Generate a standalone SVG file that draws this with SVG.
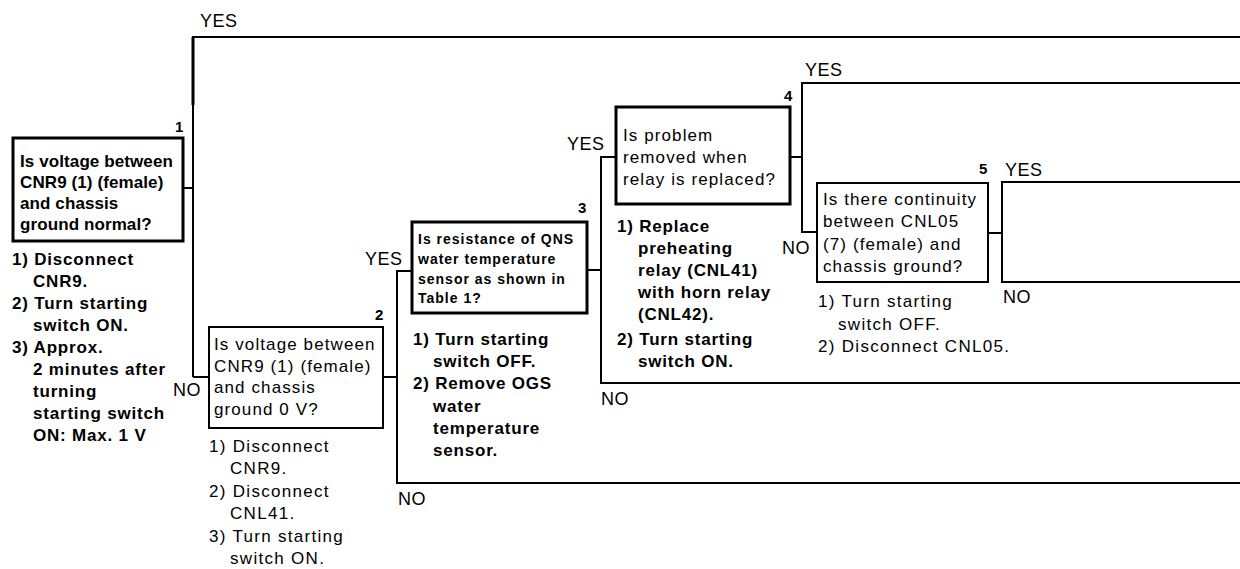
<svg xmlns="http://www.w3.org/2000/svg" width="1240" height="569" viewBox="0 0 1240 569">
<style>
  text { font-family: "Liberation Sans", Arial, Helvetica, sans-serif; fill: #000; }
  .q  { font-size: 17px; letter-spacing: 1.1px; }
  .qb { font-size: 17px; font-weight: bold; letter-spacing: 0.1px; }
  .qs { font-size: 14px; font-weight: bold; letter-spacing: 1px; }
  .s  { font-size: 17px; letter-spacing: 1.3px; }
  .sb { font-size: 17px; font-weight: bold; letter-spacing: 0.8px; }
  .lbl { font-size: 18px; letter-spacing: 0.5px; }
  .num { font-size: 15px; font-weight: bold; }
  .box { fill: #fff; stroke: #000; }
  .thick { stroke-width: 3; }
  .thin { stroke-width: 2; }
</style>
<rect width="1240" height="569" fill="#fff"/>

<!-- connecting lines between the check steps -->
<g id="connectors" fill="none" stroke="#000" stroke-width="2">
  <path d="M183 188 H193"/>
  <path d="M193 377 V37 H1240"/>
  <path d="M193 105 V37" stroke-width="3"/>
  <path d="M193 377 H209"/>
  <path d="M383 377 H397"/>
  <path d="M412 271 H397 V483 H1240"/>
  <path d="M587 270 H601"/>
  <path d="M616 157 H601 V383 H1240"/>
  <path d="M790 157 H802"/>
  <path d="M1240 83 H802 V232 H817"/>
  <path d="M988 233 H1002"/>
  <path d="M1240 182 H1002 V282 H1240"/>
</g>

<!-- branch labels -->
<g id="branch-labels">
  <text class="lbl" x="200" y="27">YES</text>
  <text class="lbl" x="173" y="396">NO</text>
  <text class="lbl" x="365" y="265">YES</text>
  <text class="lbl" x="398" y="505">NO</text>
  <text class="lbl" x="567" y="150">YES</text>
  <text class="lbl" x="601" y="405">NO</text>
  <text class="lbl" x="805" y="76">YES</text>
  <text class="lbl" x="782" y="254">NO</text>
  <text class="lbl" x="1005" y="176">YES</text>
  <text class="lbl" x="1003" y="303">NO</text>
</g>

<!-- step 1 -->
<g id="node1">
  <rect class="box thick" x="13" y="138" width="170" height="103"/>
  <text class="num" x="175" y="132">1</text>
  <text class="qb" x="20" y="167">Is voltage between</text>
  <text class="qb" x="20" y="188">CNR9 (1) (female)</text>
  <text class="qb" x="20" y="209">and chassis</text>
  <text class="qb" x="20" y="230">ground normal?</text>
  <text class="sb" x="12" y="265">1) Disconnect</text>
  <text class="sb" x="33" y="287">CNR9.</text>
  <text class="sb" x="12" y="309">2) Turn starting</text>
  <text class="sb" x="33" y="331">switch ON.</text>
  <text class="sb" x="12" y="353">3) Approx.</text>
  <text class="sb" x="33" y="375">2 minutes after</text>
  <text class="sb" x="33" y="397">turning</text>
  <text class="sb" x="33" y="419">starting switch</text>
  <text class="sb" x="33" y="441">ON: Max. 1 V</text>
</g>

<!-- step 2 -->
<g id="node2">
  <rect class="box thin" x="209" y="327" width="174" height="101"/>
  <text class="num" x="375" y="320">2</text>
  <text class="q" x="214" y="350">Is voltage between</text>
  <text class="q" x="214" y="372">CNR9 (1) (female)</text>
  <text class="q" x="214" y="393">and chassis</text>
  <text class="q" x="214" y="415">ground 0 V?</text>
  <text class="s" x="209" y="452">1) Disconnect</text>
  <text class="s" x="230" y="474">CNR9.</text>
  <text class="s" x="209" y="497">2) Disconnect</text>
  <text class="s" x="230" y="519">CNL41.</text>
  <text class="s" x="209" y="542">3) Turn starting</text>
  <text class="s" x="230" y="564">switch ON.</text>
</g>

<!-- step 3 -->
<g id="node3">
  <rect class="box thick" x="412" y="222" width="175" height="91"/>
  <text class="num" x="578" y="213">3</text>
  <text class="qs" x="418" y="244">Is resistance of QNS</text>
  <text class="qs" x="418" y="264">water temperature</text>
  <text class="qs" x="418" y="284">sensor as shown in</text>
  <text class="qs" x="418" y="303">Table 1?</text>
  <text class="sb" x="413" y="345">1) Turn starting</text>
  <text class="sb" x="433" y="367">switch OFF.</text>
  <text class="sb" x="413" y="389">2) Remove OGS</text>
  <text class="sb" x="433" y="412">water</text>
  <text class="sb" x="433" y="434">temperature</text>
  <text class="sb" x="433" y="456">sensor.</text>
</g>

<!-- step 4 -->
<g id="node4">
  <rect class="box thick" x="616" y="107" width="174" height="97"/>
  <text class="num" x="784" y="101">4</text>
  <text class="q" x="623" y="141">Is problem</text>
  <text class="q" x="623" y="163">removed when</text>
  <text class="q" x="623" y="185">relay is replaced?</text>
  <text class="sb" x="617" y="232">1) Replace</text>
  <text class="sb" x="638" y="254">preheating</text>
  <text class="sb" x="638" y="276">relay (CNL41)</text>
  <text class="sb" x="638" y="298">with horn relay</text>
  <text class="sb" x="638" y="320">(CNL42).</text>
  <text class="sb" x="617" y="345">2) Turn starting</text>
  <text class="sb" x="638" y="367">switch ON.</text>
</g>

<!-- step 5 -->
<g id="node5">
  <rect class="box thin" x="817" y="183" width="171" height="99"/>
  <text class="num" x="979" y="174">5</text>
  <text class="q" x="823" y="205">Is there continuity</text>
  <text class="q" x="823" y="227">between CNL05</text>
  <text class="q" x="823" y="250">(7) (female) and</text>
  <text class="q" x="823" y="272">chassis ground?</text>
  <text class="s" x="818" y="307">1) Turn starting</text>
  <text class="s" x="838" y="330">switch OFF.</text>
  <text class="s" x="818" y="352">2) Disconnect CNL05.</text>
</g>
</svg>
